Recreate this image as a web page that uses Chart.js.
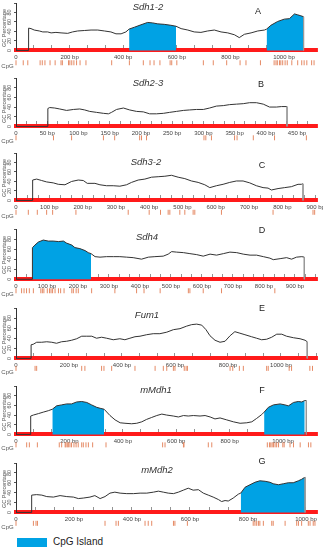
<!DOCTYPE html>
<html>
<head>
<meta charset="utf-8">
<script src="https://cdn.jsdelivr.net/npm/chart.js@4.4.1/dist/chart.umd.min.js"></script>
<style>
body{margin:0;background:#fff;}
#wrap{position:relative;width:323px;height:550px;overflow:hidden;font-family:'Liberation Sans',Arial,sans-serif;}
canvas{position:absolute;left:0;}
.lbl{position:absolute;white-space:nowrap;transform:translate(-50%,-50%);color:#222;line-height:1;}
.ttl{font-style:italic;font-size:9.5px;color:#333;}
.let{font-size:9px;}
.ylab{font-size:5.5px;color:#555;transform:translate(-50%,-50%) rotate(-90deg);}
.cpg{font-size:6px;color:#555;}
#legbox{position:absolute;left:17px;top:538px;width:30px;height:9px;background:#00a2e4;}
#legtxt{position:absolute;left:53px;top:536px;font-size:10px;color:#222;}
</style>
</head>
<body>
<div id="wrap"><div id="legbox"></div><div id="legtxt">CpG Island</div></div>
<script>
var names = ['Sdh1-2', 'Sdh2-3', 'Sdh3-2', 'Sdh4', 'Fum1', 'mMdh1', 'mMdh2'];
var letters = ['A', 'B', 'C', 'D', 'E', 'F', 'G'];
var axisMax = [1123, 482, 904, 971, 1136, 1127, 1038];
var labelSteps = [200, 50, 100, 100, 200, 200, 200];

// Sdh1-2
var posA = [47,56,68,87,100,118,131,149,168,193,211,230,255,280,305,330,354,373,392,410,422,442,466,491,510,529,553,578,597,616,641,665,690,715,740,765,790,815,833,852,877,902,927,935,951,976,1001,1020,1039,1051,1063,1073];
var gcA = [47,46,43,41,39,39,37,38,37,36,39,41,42,43,43,41,39,35,35,39,45,49,54,59,58,56,55,53,51,46,43,39,38,41,43,39,37,33,27,34,37,41,43,45,53,61,66,67,77,75,73,71];
var islandsA = [[422,597],[935,1073]];
var cpgA = [0,27,44,90,98,108,127,146,168,173,196,201,208,216,226,239,261,357,423,475,500,515,537,575,581,600,699,736,786,836,858,912,963,970,975,983,988,995,1004,1012,1029,1051,1066,1075,1085,1103,1112];

// Sdh2-3
var posB = [51,54,62,70,81,92,102,110,118,129,140,148,153,161,172,182,193,204,214,225,236,246,257,268,278,289,300,310,321,332,342,353,364,374,385,396,406,417,425,434];
var gcB = [37,39,38,36,33,35,36,34,31,29,27,26,29,35,38,34,31,30,26,26,27,29,31,33,34,35,35,38,42,43,45,46,47,49,49,46,40,40,41,41];
var islandsB = [];
var cpgB = [0,60,89,140,158,198,201,209,301,304,313,350,354,380,414,465];

// Sdh3-2
var posC = [50,62,77,92,112,127,147,167,187,202,214,237,252,272,292,312,332,347,367,387,407,427,447,467,487,507,527,547,567,582,602,622,642,662,682,702,722,742,757,767,787,807,827,847,857,862];
var gcC = [43,45,42,39,37,34,33,40,43,42,36,36,33,31,31,30,33,38,43,45,49,50,51,53,49,46,41,38,33,27,31,34,38,41,41,37,31,27,26,22,25,27,29,34,34,35];
var islandsC = [];
var cpgC = [0,37,64,92,110,180,337,400,434,457,462,492,507,532,537,617,772,892,897];

// Sdh4
var posD = [53,61,72,88,104,120,137,153,163,180,190,206,223,233,242,255,271,292,314,335,357,378,405,427,448,475,491,502,518,540,561,583,604,626,647,669,690,712,733,755,776,798,819,830,852,873,889,905,922,930];
var gcD = [63,68,74,78,76,76,75,76,72,68,63,61,57,53,51,45,44,45,45,45,44,43,40,44,45,46,50,55,54,53,51,49,46,50,48,51,54,53,50,48,48,45,42,39,41,43,40,44,45,44];
var islandsD = [[53,242]];
var cpgD = [0,18,26,34,43,56,80,85,90,101,108,113,118,126,137,144,155,180,185,194,201,244,319,389,413,465,556,561,604,663,835];

// Fum1
var posE = [57,65,78,97,116,135,153,172,191,210,229,248,267,286,304,323,342,367,392,411,430,449,468,493,518,543,569,594,619,644,663,682,701,717,732,751,770,789,808,826,845,864,889,908,927,946,965,984,1003,1021,1047,1072,1091,1099];
var gcE = [27,28,32,32,33,32,30,33,34,36,39,44,44,44,40,42,40,37,39,37,40,43,44,47,49,49,52,57,59,64,67,68,66,57,45,36,32,34,45,53,50,47,43,40,37,38,42,48,48,44,41,39,36,33];
var islandsE = [];
var cpgE = [0,72,78,248,260,323,332,361,449,525,556,569,594,600,635,642,647,808,818,843,858,946,952,1031,1040,1109,1119];

// mMdh1
var posF = [55,65,84,102,121,136,152,171,190,208,227,246,265,283,302,315,330,352,371,390,408,433,452,471,489,508,527,546,564,589,608,627,645,664,689,708,727,745,764,789,814,839,864,883,901,920,929,945,964,989,1007,1020,1039,1057,1070,1081,1087];
var gcF = [38,40,43,46,49,52,59,61,63,63,67,68,66,61,56,54,52,39,30,24,23,22,23,26,31,35,39,42,40,38,36,39,38,39,38,39,36,32,34,30,26,23,24,26,33,41,46,56,61,63,61,59,66,68,67,70,70];
var islandsF = [[136,330],[929,1081]];
var cpgF = [0,40,50,80,162,171,184,187,192,196,202,208,217,225,233,246,252,262,271,287,337,549,558,627,629,720,733,941,949,954,959,964,970,976,983,999,1004,1026,1039,1064,1095,1104];

// mMdh2
var posG = [54,71,89,106,129,152,175,198,215,232,255,272,290,307,324,341,359,382,405,428,451,474,491,508,525,543,560,577,594,611,629,646,663,680,698,709,721,732,749,767,775,790,807,824,841,859,876,887,905,922,939,956,974,985,993,997];
var gcG = [35,36,35,32,31,34,32,31,28,29,31,34,28,32,39,41,39,38,38,39,39,41,43,41,39,38,41,45,49,45,46,39,35,31,26,22,24,23,29,37,39,51,56,61,64,63,61,58,56,58,60,60,64,67,70,71];
var islandsG = [[775,997]];
var cpgG = [0,60,69,74,307,345,353,445,456,468,543,548,591,818,824,830,836,841,853,882,887,928,968,974,985,1008,1014,1025,1031];

// page layout: pixel of 100%, pixel of 0%, CpG row offset, title and letter centres
var layout = [
  {top:3, zero:53, cpg:13, tx:148, ty:7, lx:258, ly:11},
  {top:78, zero:129, cpg:12, tx:148, ty:83, lx:261, ly:84},
  {top:153, zero:203, cpg:12.5, tx:146, ty:162, lx:262, ly:165},
  {top:229, zero:281.5, cpg:12, tx:147, ty:237, lx:262, ly:230},
  {top:308, zero:361, cpg:10.5, tx:147, ty:315, lx:262, ly:308},
  {top:386, zero:437, cpg:11, tx:156, ty:390, lx:262, ly:390},
  {top:463, zero:515, cpg:11.5, tx:157, ty:470, lx:262, ly:461}
];

var wrap = document.getElementById('wrap');
Chart.defaults.font.family = "'Liberation Sans', Arial, sans-serif";

var yLine = {
  id: 'yLine',
  beforeDatasetsDraw: function(ch) {
    var y = ch.scales.y, ctx = ch.ctx, x = Math.round(ch.chartArea.left) + 0.5;
    ctx.save();
    ctx.strokeStyle = '#333';
    ctx.lineWidth = 1;
    ctx.beginPath();
    ctx.moveTo(x, y.getPixelForValue(0));
    ctx.lineTo(x, y.getPixelForValue(100));
    ctx.stroke();
    ctx.restore();
  }
};

function addText(cls, txt, x, y) {
  var d = document.createElement('div');
  d.className = 'lbl ' + cls;
  d.textContent = txt;
  d.style.left = x + 'px';
  d.style.top = y + 'px';
  wrap.appendChild(d);
}

function panel(i, pos, gc, islands, cpg) {
  var L = layout[i];
  var h = L.zero - L.top;
  var below = 18, pad = 4;
  var unit = 100 / h;
  var c = document.createElement('canvas');
  c.width = 323;
  c.height = Math.round(h + below + pad);
  c.style.top = (L.top - pad) + 'px';
  wrap.appendChild(c);

  var line = [{x: 0, y: 0}, {x: pos[0], y: 0}];
  pos.forEach(function(p, k) { line.push({x: p, y: gc[k]}); });
  line.push({x: pos[pos.length - 1], y: 0});

  var isl = [];
  islands.forEach(function(r) {
    pos.forEach(function(p, k) { if (p >= r[0] && p <= r[1]) isl.push({x: p, y: gc[k]}); });
    isl.push({x: r[1] + 1, y: null});
  });

  var marks = cpg.map(function(p) { return {x: p, y: -L.cpg * unit}; });
  var step = labelSteps[i];
  var minor = step / 3;

  new Chart(c, {
    type: 'line',
    data: {datasets: [
      {data: isl, fill: 'origin', backgroundColor: '#00a2e4', borderWidth: 0, pointRadius: 0, spanGaps: false, order: 2},
      {data: line, fill: false, borderColor: '#333', borderWidth: 1, pointRadius: 0, order: 1,
        segment: {borderColor: function(ctx) {
          return (ctx.p1DataIndex === line.length - 1) ? '#999' : undefined;
        }}},
      {data: marks, showLine: false, pointStyle: 'line', rotation: 90, pointRadius: 2.5, pointHoverRadius: 2.5,
        borderColor: '#e58a65', pointBorderColor: '#e58a65', pointBorderWidth: 1, clip: false, order: 0}
    ]},
    options: {
      responsive: false,
      animation: false,
      events: [],
      layout: {padding: {top: pad, left: 0, right: 6, bottom: 0}},
      plugins: {legend: {display: false}, tooltip: {enabled: false}},
      scales: {
        x: {
          type: 'linear', min: 0, max: axisMax[i], position: {y: 0},
          border: {color: '#ff1a1a', width: 4},
          grid: {drawOnChartArea: false, drawTicks: true, tickLength: -7, color: '#777', lineWidth: 0.8},
          ticks: {
            autoSkip: false, maxRotation: 0, padding: 10,
            font: {size: 6}, color: '#444',
            callback: function(v, k) {
              if (k % 3 !== 0) return '';
              return k === 0 ? '0' : Math.round(v) + ' bp';
            }
          },
          afterBuildTicks: function(s) {
            var t = [];
            for (var k = 0; k * minor <= axisMax[i]; k++) t.push({value: k * minor});
            s.ticks = t;
          },
          afterFit: function(s) { s.height = 0; s.paddingLeft = 0; s.paddingRight = 0; }
        },
        y: {
          min: -below * unit, max: 100,
          border: {display: false},
          grid: {drawOnChartArea: false, tickLength: 2, color: '#555'},
          ticks: {
            stepSize: 20, minRotation: 90, maxRotation: 90, crossAlign: 'center', padding: 1,
            font: {size: 5.5}, color: '#555',
            callback: function(v) { return v === 100 ? '' : v; }
          },
          afterBuildTicks: function(s) { s.ticks = s.ticks.filter(function(t) { return t.value >= 0 && t.value <= 100; }); },
          afterFit: function(s) { s.width = 16; s.paddingTop = 0; s.paddingBottom = 0; }
        }
      }
    },
    plugins: [yLine]
  });

  addText('ttl', names[i], L.tx, L.ty);
  addText('let', letters[i], L.lx, L.ly);
  addText('ylab', 'GC Percentage', 5, (L.top + L.zero) / 2);
  addText('cpg', 'CpG', 7.5, L.zero + L.cpg);
}

panel(0, posA, gcA, islandsA, cpgA);
panel(1, posB, gcB, islandsB, cpgB);
panel(2, posC, gcC, islandsC, cpgC);
panel(3, posD, gcD, islandsD, cpgD);
panel(4, posE, gcE, islandsE, cpgE);
panel(5, posF, gcF, islandsF, cpgF);
panel(6, posG, gcG, islandsG, cpgG);
</script>
</body>
</html>
